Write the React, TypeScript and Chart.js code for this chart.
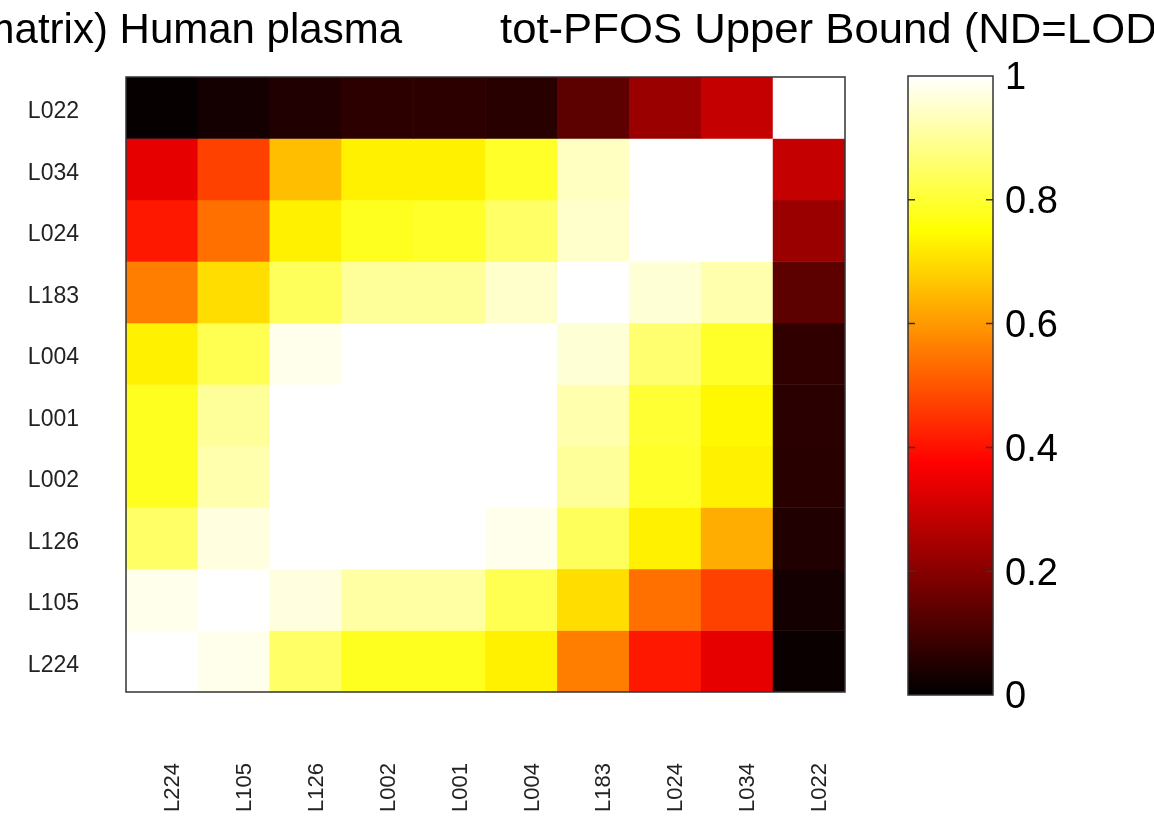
import React, { useEffect, useRef } from "react";
import { Chart, registerables } from "chart.js";

Chart.register(...registerables);

// Column (x) and row (y) labels
const xLabels = ["L224", "L105", "L126", "L002", "L001", "L004", "L183", "L024", "L034", "L022"];
const yLabels = ["L022", "L034", "L024", "L183", "L004", "L001", "L002", "L126", "L105", "L224"];

// Correlation values, one array per row (top to bottom), columns in xLabels order
const rowL022 = [0.01, 0.03, 0.047, 0.066, 0.066, 0.06, 0.135, 0.227, 0.288, 1.0];
const rowL034 = [0.338, 0.47, 0.655, 0.73, 0.73, 0.79, 0.94, 1.0, 1.0, 0.288];
const rowL024 = [0.41, 0.54, 0.73, 0.78, 0.79, 0.85, 0.95, 1.0, 1.0, 0.227];
const rowL183 = [0.56, 0.7, 0.84, 0.9, 0.9, 0.95, 1.0, 0.96, 0.92, 0.135];
const rowL004 = [0.73, 0.83, 0.98, 1.0, 1.0, 1.0, 0.96, 0.86, 0.79, 0.07];
const rowL001 = [0.78, 0.9, 1.0, 1.0, 1.0, 1.0, 0.92, 0.8, 0.74, 0.062];
const rowL002 = [0.78, 0.92, 1.0, 1.0, 1.0, 1.0, 0.9, 0.79, 0.73, 0.06];
const rowL126 = [0.85, 0.97, 1.0, 1.0, 1.0, 0.98, 0.84, 0.73, 0.63, 0.047];
const rowL105 = [0.98, 1.0, 0.97, 0.91, 0.91, 0.83, 0.7, 0.54, 0.47, 0.029];
const rowL224 = [1.0, 0.98, 0.85, 0.78, 0.78, 0.73, 0.56, 0.41, 0.338, 0.015];

const rows = [rowL022, rowL034, rowL024, rowL183, rowL004, rowL001, rowL002, rowL126, rowL105, rowL224];

const colorbarTicks = [0, 0.2, 0.4, 0.6, 0.8, 1];
const titleLeft = "matrix) Human plasma";
const titleRight = "tot-PFOS Upper Bound (ND=LOD)";

function hot(v: number): string {
  const c = (x: number) => Math.round(255 * Math.max(0, Math.min(1, x)));
  const r = c(v / 0.375);
  const g = c((v - 0.375) / 0.375);
  const b = c((v - 0.75) / 0.25);
  return `rgb(${r},${g},${b})`;
}

const FONT = "'Liberation Sans', Arial, Helvetica, sans-serif";

export default function App() {
  const mainRef = useRef<HTMLCanvasElement | null>(null);
  const barRef = useRef<HTMLCanvasElement | null>(null);

  useEffect(() => {
    const mainCanvas = mainRef.current!;
    const barCanvas = barRef.current!;

    const framePlugin = {
      id: "frame",
      afterDatasetsDraw(chart: any) {
        const { ctx, chartArea } = chart;
        ctx.save();
        ctx.strokeStyle = "#333";
        ctx.lineWidth = 1.5;
        ctx.strokeRect(chartArea.left, chartArea.top, chartArea.right - chartArea.left, chartArea.bottom - chartArea.top);
        ctx.restore();
      },
    };

    const titlePlugin = {
      id: "titles",
      afterDraw(chart: any) {
        const { ctx } = chart;
        ctx.save();
        ctx.fillStyle = "#000";
        ctx.font = `42px ${FONT}`;
        ctx.textBaseline = "alphabetic";
        ctx.save();
        ctx.translate(402, 43);
        ctx.textAlign = "right";
        ctx.fillText(titleLeft, 0, 0);
        ctx.restore();
        ctx.save();
        ctx.translate(500, 43);
        ctx.scale(1.04, 1);
        ctx.textAlign = "left";
        ctx.fillText(titleRight, 0, 0);
        ctx.restore();
        ctx.restore();
      },
    };

    const main = new Chart(mainCanvas, {
      type: "bar",
      data: {
        labels: xLabels,
        datasets: rows.map((vals, i) => ({
          label: yLabels[i],
          data: vals.map(() => [i - 0.5, i + 0.5]) as any,
          backgroundColor: vals.map((v) => hot(v)),
          borderWidth: 0,
          barPercentage: 1,
          categoryPercentage: 1,
          grouped: false,
        })),
      },
      options: {
        animation: false,
        responsive: false,
        maintainAspectRatio: false,
        layout: { padding: { top: 77, right: 309, bottom: 0, left: 0 } },
        plugins: { legend: { display: false }, tooltip: { enabled: false }, title: { display: false } },
        scales: {
          x: {
            grid: { display: false, drawTicks: false },
            border: { display: false },
            ticks: {
              autoSkip: false,
              maxRotation: 90,
              minRotation: 90,
              padding: 71,
              labelOffset: 11,
              color: "#222",
              font: { family: FONT, size: 22 },
            },
            afterFit(scale: any) {
              scale.height = 126;
            },
          },
          y: {
            type: "linear",
            min: -0.5,
            max: 9.5,
            reverse: true,
            grid: { display: false, drawTicks: false },
            border: { display: false },
            afterBuildTicks(scale: any) {
              scale.ticks = yLabels.map((_, i) => ({ value: i }));
            },
            ticks: {
              autoSkip: false,
              padding: 47,
              labelOffset: 4,
              color: "#222",
              font: { family: FONT, size: 23 },
              callback: (v: any) => yLabels[Math.round(Number(v))] ?? "",
            },
            afterFit(scale: any) {
              scale.width = 126;
            },
          },
        },
      },
      plugins: [framePlugin, titlePlugin],
    });

    const cbPlugin = {
      id: "cbFrame",
      afterDatasetsDraw(chart: any) {
        const { ctx, chartArea, scales } = chart;
        ctx.save();
        ctx.strokeStyle = "#333";
        ctx.lineWidth = 1.5;
        ctx.strokeRect(chartArea.left, chartArea.top, chartArea.right - chartArea.left, chartArea.bottom - chartArea.top);
        colorbarTicks.forEach((t) => {
          if (t === 0 || t === 1) return;
          const y = scales.y.getPixelForValue(t);
          ctx.beginPath();
          ctx.moveTo(chartArea.left, y);
          ctx.lineTo(chartArea.left + 7, y);
          ctx.moveTo(chartArea.right, y);
          ctx.lineTo(chartArea.right - 7, y);
          ctx.stroke();
        });
        ctx.restore();
      },
    };

    const cb = new Chart(barCanvas, {
      type: "bar",
      data: {
        labels: ["cb"],
        datasets: [
          {
            data: [[0, 1]] as any,
            barPercentage: 1,
            categoryPercentage: 1,
            borderWidth: 0,
            backgroundColor: (c: any) => {
              const area = c.chart.chartArea;
              if (!area) return "#000";
              const g = c.chart.ctx.createLinearGradient(0, area.bottom, 0, area.top);
              g.addColorStop(0, "#000000");
              g.addColorStop(0.375, "#ff0000");
              g.addColorStop(0.75, "#ffff00");
              g.addColorStop(1, "#ffffff");
              return g;
            },
          },
        ],
      },
      options: {
        animation: false,
        responsive: false,
        maintainAspectRatio: false,
        layout: { padding: { top: 76, right: 0, bottom: 123, left: 28 } },
        plugins: { legend: { display: false }, tooltip: { enabled: false } },
        scales: {
          x: { display: false },
          y: {
            position: "right",
            min: 0,
            max: 1,
            grid: { display: false, drawTicks: false },
            border: { display: false },
            afterBuildTicks(scale: any) {
              scale.ticks = colorbarTicks.map((v) => ({ value: v }));
            },
            ticks: {
              padding: 12,
              labelOffset: 3,
              color: "#000",
              font: { family: FONT, size: 38 },
              callback: (v: any) => String(Number(v)),
            },
            afterFit(scale: any) {
              scale.width = 161;
            },
          },
        },
      },
      plugins: [cbPlugin],
    });

    return () => {
      main.destroy();
      cb.destroy();
    };
  }, []);

  return (
    <div style={{ position: "absolute", left: 0, top: 0, width: 1154, height: 818, overflow: "hidden", background: "#fff" }}>
      <canvas ref={mainRef} width={1154} height={818} style={{ position: "absolute", left: 0, top: 0 }} />
      <canvas ref={barRef} width={274} height={818} style={{ position: "absolute", left: 880, top: 0 }} />
    </div>
  );
}
